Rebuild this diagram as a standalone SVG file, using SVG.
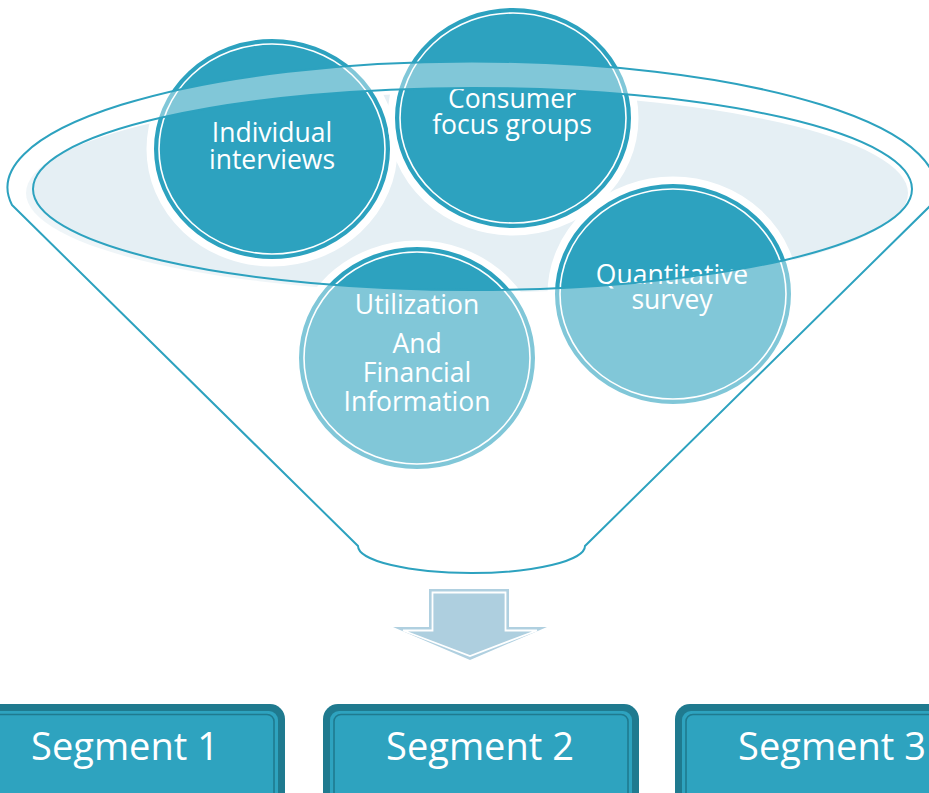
<svg xmlns="http://www.w3.org/2000/svg" width="929" height="793" viewBox="0 0 929 793">
<style>
.halo{fill:none;stroke:#ffffff;stroke-width:9}
.disc{fill:#2da2bf;stroke:#2da2bf;stroke-width:2}
.ring{fill:none;stroke:#ffffff;stroke-width:1.6}
.ct{font-family:"Open Sans","DejaVu Sans",sans-serif;font-size:26.5px;fill:#ffffff;text-anchor:middle}
.st{font-family:"Open Sans","DejaVu Sans",sans-serif;font-size:38px;fill:#ffffff;text-anchor:middle}
.line{fill:none;stroke:#2da2bf;stroke-width:2}
.boxo{fill:#1f7a8f}
.boxi{fill:#2ea3bf}
.boxl{fill:none;stroke:#1f7a8f;stroke-width:1.6}
</style>
<rect width="929" height="793" fill="#ffffff"/>
<!-- inner opening fill -->
<ellipse cx="467" cy="193" rx="441" ry="100" fill="#e5eff4"/>
<g id="node-individual">
<ellipse class="halo" cx="272" cy="149" rx="121" ry="113"/>
<ellipse class="disc" cx="272" cy="149" rx="117" ry="109"/>
<ellipse class="ring" cx="272" cy="149" rx="113" ry="105"/>
<text class="ct" x="272" y="142">Individual</text>
<text class="ct" x="272" y="169">interviews</text>
</g>
<g id="node-consumer">
<ellipse class="halo" cx="513" cy="118" rx="121" ry="113"/>
<ellipse class="disc" cx="513" cy="118" rx="117" ry="109"/>
<ellipse class="ring" cx="513" cy="118" rx="113" ry="105"/>
<text class="ct" x="512" y="108">Consumer</text>
<text class="ct" x="512" y="134">focus groups</text>
</g>
<g id="node-quantitative">
<ellipse class="halo" cx="673" cy="294" rx="121" ry="113"/>
<ellipse class="disc" cx="673" cy="294" rx="117" ry="109"/>
<ellipse class="ring" cx="673" cy="294" rx="113" ry="105"/>
<text class="ct" x="672" y="284">Quantitative</text>
<text class="ct" x="672" y="309">survey</text>
</g>
<g id="node-utilization">
<ellipse class="halo" cx="417" cy="358" rx="121" ry="113"/>
<ellipse class="disc" cx="417" cy="358" rx="117" ry="110"/>
<ellipse class="ring" cx="417" cy="358" rx="113" ry="106"/>
<text class="ct" x="417" y="314">Utilization</text>
<text class="ct" x="417" y="353">And</text>
<text class="ct" x="417" y="382">Financial</text>
<text class="ct" x="417" y="411">Information</text>
</g>
<!-- funnel body veil -->
<g id="funnel">
<path fill="#ffffff" fill-opacity="0.4" fill-rule="evenodd" d="M12 205 L358 546 A113.5 27 0 0 0 585 546 L931 205 A464 126 0 1 0 12 205 Z M33 189 A439.5 101 0 1 0 912 189 A439.5 101 0 1 0 33 189 Z"/>
<path class="line" d="M12 205 L358 546 A113.5 27 0 0 0 585 546 L931 205 A464 126 0 1 0 12 205 Z"/>
<ellipse class="line" cx="472.5" cy="189" rx="439.5" ry="101"/>
</g>
<g id="connectors">
<polygon points="429,589 509,589 509,627 547,627 470,660 393,627 429,627" fill="#b0d0e0"/>
<polygon points="432.5,592.5 505.5,592.5 505.5,630.5 537,630.5 470,656 403,630.5 432.5,630.5" fill="#aecfdf" stroke="#ffffff" stroke-width="1.8"/>
</g>
<g id="node-segment1">
<rect class="boxo" x="-31" y="704" width="316" height="110" rx="15"/>
<rect class="boxi" x="-24" y="711" width="302" height="96" rx="9"/>
<rect class="boxl" x="-20" y="714.5" width="294" height="89" rx="7"/>
<text class="st" x="125" y="760">Segment 1</text>
</g>
<g id="node-segment2">
<rect class="boxo" x="323" y="704" width="316" height="110" rx="15"/>
<rect class="boxi" x="330" y="711" width="302" height="96" rx="9"/>
<rect class="boxl" x="334" y="714.5" width="294" height="89" rx="7"/>
<text class="st" x="480" y="760">Segment 2</text>
</g>
<g id="node-segment3">
<rect class="boxo" x="675" y="704" width="316" height="110" rx="15"/>
<rect class="boxi" x="682" y="711" width="302" height="96" rx="9"/>
<rect class="boxl" x="686" y="714.5" width="294" height="89" rx="7"/>
<text class="st" x="832" y="760">Segment 3</text>
</g>
</svg>
